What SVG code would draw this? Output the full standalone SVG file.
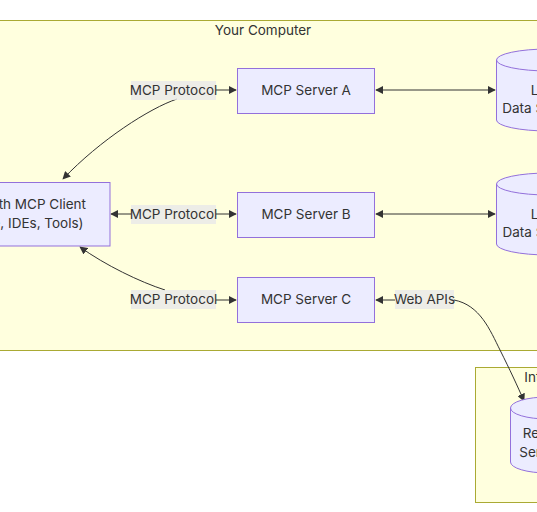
<svg xmlns="http://www.w3.org/2000/svg" width="537" height="512" viewBox="0 0 537 512">
<defs>
<style>
.cluster{fill:#ffffde;stroke:#aaaa33;stroke-width:1}
.node{fill:#ececff;stroke:#9370db;stroke-width:1}
.t{font-family:Inter,"Liberation Sans",sans-serif;font-size:13.5px;fill:#333333}
.edge{fill:none;stroke:#333333;stroke-width:1}
.lbl{fill:#e8e8e8;fill-opacity:0.8}
</style>
<marker id="ae" viewBox="0 0 10 10" refX="9" refY="5" markerWidth="8" markerHeight="8" markerUnits="userSpaceOnUse" orient="auto"><path d="M0,0L10,5L0,10z" fill="#333333"/></marker>
<marker id="as" viewBox="0 0 10 10" refX="1" refY="5" markerWidth="8" markerHeight="8" markerUnits="userSpaceOnUse" orient="auto"><path d="M10,0L0,5L10,10z" fill="#333333"/></marker>
</defs>
<rect width="537" height="512" fill="#ffffff"/>
<g id="cluster-computer">
<rect class="cluster" x="-20" y="20.5" width="580" height="330"/>
<text class="t" x="263" y="35" text-anchor="middle">Your Computer</text>
</g>
<g id="cluster-internet">
<rect class="cluster" x="475.5" y="367.5" width="80" height="135"/>
<text class="t" x="549" y="382" text-anchor="middle">Internet</text>
</g>
<g id="connectors">
<path class="edge" d="M216,90L236,90" marker-end="url(#ae)"/>
<path class="edge" d="M177,99C150,108 100,140 63,179" marker-end="url(#ae)"/>
<path class="edge" d="M216,214L236,214" marker-end="url(#ae)"/>
<path class="edge" d="M131,214L111,214" marker-end="url(#ae)"/>
<path class="edge" d="M216,300L236,300" marker-end="url(#ae)"/>
<path class="edge" d="M165,290C140,282 105,265 80,247" marker-end="url(#ae)"/>
<path class="edge" d="M376,90L495,90" marker-start="url(#as)" marker-end="url(#ae)"/>
<path class="edge" d="M376,214L495,214" marker-start="url(#as)" marker-end="url(#ae)"/>
<path class="edge" d="M395,300L376,300" marker-end="url(#ae)"/>
<path class="edge" d="M454,300C480,305 490,330 500,350C510,370 517,385 524,401" marker-end="url(#ae)"/>
<g id="label-a"><rect class="lbl" x="131" y="81" width="85" height="19"/><text class="t" x="173.5" y="95" text-anchor="middle">MCP Protocol</text></g>
<g id="label-b"><rect class="lbl" x="131" y="205" width="85" height="19"/><text class="t" x="173.5" y="219" text-anchor="middle">MCP Protocol</text></g>
<g id="label-c"><rect class="lbl" x="131" y="290" width="85" height="19"/><text class="t" x="173.5" y="304" text-anchor="middle">MCP Protocol</text></g>
<g id="label-web"><rect class="lbl" x="395" y="290" width="59" height="19"/><text class="t" x="424.5" y="304" text-anchor="middle">Web APIs</text></g>
</g>
<g id="client">
<rect class="node" x="-82" y="182.5" width="192" height="63.5"/>
<text class="t" x="86" y="209" text-anchor="end">Host with MCP Client</text>
<text class="t" x="83.5" y="228" text-anchor="end">(Claude, IDEs, Tools)</text>
</g>
<g id="server-a">
<rect class="node" x="237.5" y="68.5" width="137" height="45"/>
<text class="t" x="306" y="95" text-anchor="middle">MCP Server A</text>
</g>
<g id="server-b">
<rect class="node" x="237.5" y="192.5" width="137" height="45"/>
<text class="t" x="306" y="219" text-anchor="middle">MCP Server B</text>
</g>
<g id="server-c">
<rect class="node" x="237.5" y="277.5" width="137" height="45"/>
<text class="t" x="306" y="304" text-anchor="middle">MCP Server C</text>
</g>
<g id="data-a">
<path class="node" d="M496.5,60a52,11 0 0 0 104,0a52,11 0 0 0 -104,0l0,60a52,11 0 0 0 104,0l0,-60"/>
<text class="t" x="548" y="95" text-anchor="middle">Local</text>
<text class="t" x="548" y="113" text-anchor="middle">Data Source A</text>
</g>
<g id="data-b">
<path class="node" d="M496.5,184a52,11 0 0 0 104,0a52,11 0 0 0 -104,0l0,60a52,11 0 0 0 104,0l0,-60"/>
<text class="t" x="548" y="219" text-anchor="middle">Local</text>
<text class="t" x="548" y="237" text-anchor="middle">Data Source B</text>
</g>
<g id="remote">
<path class="node" d="M510.5,408a37,11 0 0 0 74,0a37,11 0 0 0 -74,0l0,54a37,11 0 0 0 74,0l0,-54"/>
<text class="t" x="547" y="438" text-anchor="middle">Remote</text>
<text class="t" x="547" y="457" text-anchor="middle">Services</text>
</g>
</svg>
